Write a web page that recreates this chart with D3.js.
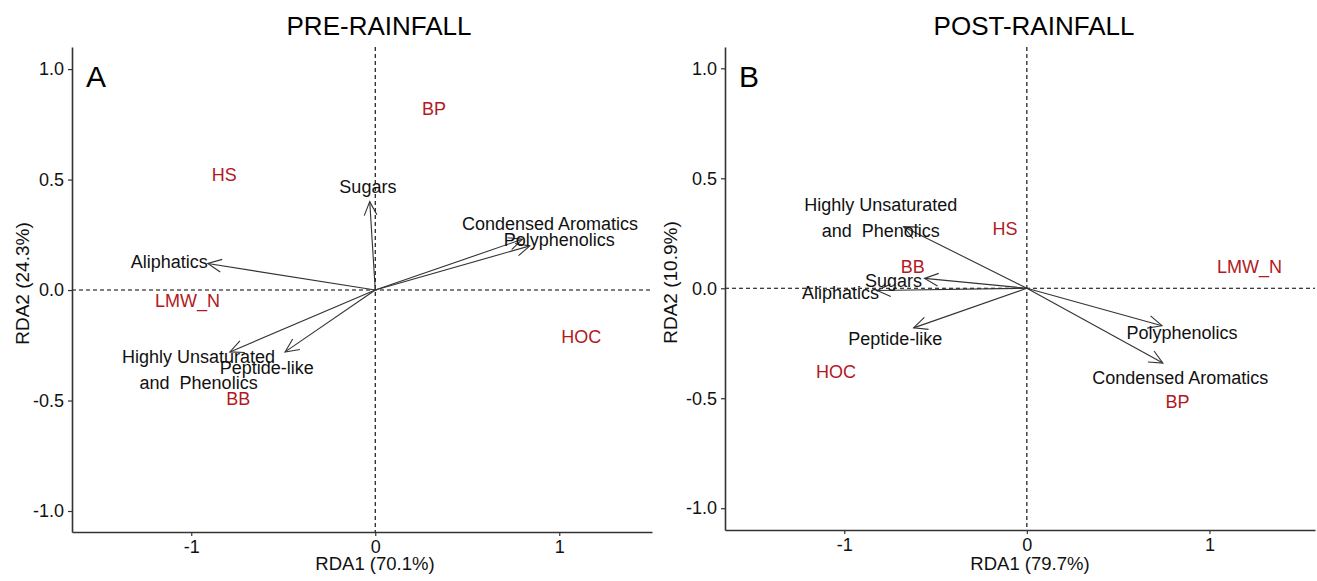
<!DOCTYPE html>
<html>
<head>
<meta charset="utf-8">
<script src="https://cdn.jsdelivr.net/npm/d3@7"></script>
<style>
  body { margin: 0; background: #fff; }
  svg text { font-family: "Liberation Sans", Arial, sans-serif; }
</style>
</head>
<body>
<svg id="chart" width="1317" height="581"></svg>
<script>
// ---- data ----
var tickX = [-1, 0, 1];
var tickY = [-1.0, -0.5, 0.0, 0.5, 1.0];

// panel A : pre-rainfall
var preVars    = ["Sugars", "Aliphatics", "Condensed Aromatics", "Polyphenolics", "Highly Unsaturated\nand  Phenolics", "Peptide-like"];
var preArrowX  = [-0.03, -0.91, 0.80, 0.84, -0.79, -0.49];
var preArrowY  = [ 0.40,  0.12, 0.23, 0.20, -0.28, -0.28];
var preLabelX  = [-0.04, -1.12, 0.95, 1.00, -0.96, -0.59];
var preLabelY  = [ 0.47,  0.13, 0.30, 0.23, -0.36, -0.35];
var preSites   = ["HS", "LMW_N", "BP", "HOC", "BB"];
var preSiteX   = [-0.82, -1.02, 0.32, 1.12, -0.745];
var preSiteY   = [ 0.52, -0.05, 0.82, -0.21, -0.49];

// panel B : post-rainfall
var postVars   = ["Highly Unsaturated\nand  Phenolics", "Sugars", "Aliphatics", "Peptide-like", "Polyphenolics", "Condensed Aromatics"];
var postArrowX = [-0.675, -0.56, -0.82, -0.62, 0.74, 0.745];
var postArrowY = [ 0.28,   0.045, -0.01, -0.18, -0.17, -0.34];
var postLabelX = [-0.80, -0.73, -1.02, -0.72, 0.85, 0.84];
var postLabelY = [ 0.32,  0.035, -0.02, -0.23, -0.20, -0.405];
var postSites  = ["HS", "LMW_N", "BB", "HOC", "BP"];
var postSiteX  = [-0.12, 1.22, -0.625, -1.045, 0.825];
var postSiteY  = [ 0.27, 0.10, 0.10, -0.38, -0.515];

var svg = d3.select("#chart");
var RED = "#b2191e";
var AXIS = "#333333";

function panel(opt) {
  var x = d3.scaleLinear().domain(opt.xdom).range([opt.left, opt.right]);
  var y = d3.scaleLinear().domain(opt.ydom).range([opt.bottom, opt.top]);
  var g = svg.append("g");

  // reference lines
  g.append("line")
    .attr("x1", x(0)).attr("x2", x(0)).attr("y1", opt.top).attr("y2", opt.bottom)
    .attr("stroke", "#000").attr("stroke-width", 1.1).attr("stroke-dasharray", "4,3");
  g.append("line")
    .attr("x1", opt.left).attr("x2", opt.right).attr("y1", y(0)).attr("y2", y(0))
    .attr("stroke", "#000").attr("stroke-width", 1.1).attr("stroke-dasharray", "4,3");

  // axes
  var ax = g.append("g").attr("transform", "translate(0," + opt.bottom + ")")
    .call(d3.axisBottom(x).tickValues(tickX).tickSize(4).tickSizeOuter(0).tickPadding(4));
  var ay = g.append("g").attr("transform", "translate(" + opt.left + ",0)")
    .call(d3.axisLeft(y).tickValues(tickY).tickSize(4).tickSizeOuter(0).tickPadding(4));
  [ax, ay].forEach(function(a) {
    a.select(".domain").attr("stroke", AXIS).attr("stroke-width", 1.6);
    a.selectAll(".tick line").attr("stroke", AXIS).attr("stroke-width", 1.2);
    a.selectAll(".tick text").attr("fill", "#111").style("font-size", "18px")
      .style("font-family", "'Liberation Sans', Arial, sans-serif");
  });
  ax.selectAll(".tick text").text(function(d) { return d3.format("d")(d).replace("−", "-"); });
  ay.selectAll(".tick text").text(function(d) { return d3.format(".1f")(d).replace("−", "-"); });

  // arrows
  var H = 15, ANG = 25 * Math.PI / 180;
  opt.vars.forEach(function(v, i) {
    var x0 = x(0), y0 = y(0), x1 = x(opt.ax[i]), y1 = y(opt.ay[i]);
    var a = Math.atan2(y1 - y0, x1 - x0);
    g.append("line")
      .attr("x1", x0).attr("y1", y0).attr("x2", x1).attr("y2", y1)
      .attr("stroke", AXIS).attr("stroke-width", 1.1);
    g.append("path")
      .attr("d", "M" + (x1 - H * Math.cos(a - ANG)) + "," + (y1 - H * Math.sin(a - ANG)) +
                 "L" + x1 + "," + y1 +
                 "L" + (x1 - H * Math.cos(a + ANG)) + "," + (y1 - H * Math.sin(a + ANG)))
      .attr("fill", "none").attr("stroke", AXIS).attr("stroke-width", 1.1);
  });

  // variable labels
  opt.vars.forEach(function(v, i) {
    var lines = v.split("\n");
    var t = g.append("text")
      .attr("x", x(opt.lx[i])).attr("y", y(opt.ly[i]))
      .attr("text-anchor", "middle").attr("fill", "#111")
      .style("font-size", "18px").style("white-space", "pre");
    lines.forEach(function(s, k) {
      t.append("tspan").attr("x", x(opt.lx[i]))
        .attr("dy", k === 0 ? (0.35 - (lines.length - 1) * 0.72) + "em" : "1.44em")
        .text(s);
    });
  });

  // sites
  g.selectAll(".site").data(opt.sites).enter().append("text")
    .attr("x", function(d, i) { return x(opt.sx[i]); })
    .attr("y", function(d, i) { return y(opt.sy[i]); })
    .attr("dy", "0.35em")
    .attr("text-anchor", "middle").attr("fill", RED)
    .style("font-size", "18px")
    .text(function(d) { return d; });

  // panel letter, title, axis titles
  g.append("text").attr("x", opt.left + 14).attr("y", 87)
    .style("font-size", "30px").attr("fill", "#000").text(opt.letter);
  g.append("text").attr("x", opt.titleX).attr("y", 35).attr("text-anchor", "middle")
    .style("font-size", "26px").attr("fill", "#000").text(opt.title);
  g.append("text").attr("x", opt.xlabX).attr("y", 570).attr("text-anchor", "middle")
    .style("font-size", "18.5px").attr("fill", "#111").text(opt.xlab);
  g.append("text")
    .attr("transform", "translate(" + opt.ylabX + "," + ((opt.top + opt.bottom) / 2 - 6) + ") rotate(-90)")
    .attr("text-anchor", "middle")
    .style("font-size", "19px").attr("fill", "#111").text(opt.ylab);
}

panel({
  left: 72, right: 652, top: 47, bottom: 532,
  xdom: [-1.648, 1.504], ydom: [-1.095, 1.10],
  vars: preVars, ax: preArrowX, ay: preArrowY, lx: preLabelX, ly: preLabelY,
  sites: preSites, sx: preSiteX, sy: preSiteY,
  letter: "A", title: "PRE-RAINFALL", titleX: 379,
  xlab: "RDA1 (70.1%)", xlabX: 375, ylab: "RDA2 (24.3%)", ylabX: 29
});

panel({
  left: 725, right: 1315, top: 47, bottom: 530,
  xdom: [-1.653, 1.578], ydom: [-1.099, 1.097],
  vars: postVars, ax: postArrowX, ay: postArrowY, lx: postLabelX, ly: postLabelY,
  sites: postSites, sx: postSiteX, sy: postSiteY,
  letter: "B", title: "POST-RAINFALL", titleX: 1034,
  xlab: "RDA1 (79.7%)", xlabX: 1030, ylab: "RDA2 (10.9%)", ylabX: 677
});
</script>
</body>
</html>
